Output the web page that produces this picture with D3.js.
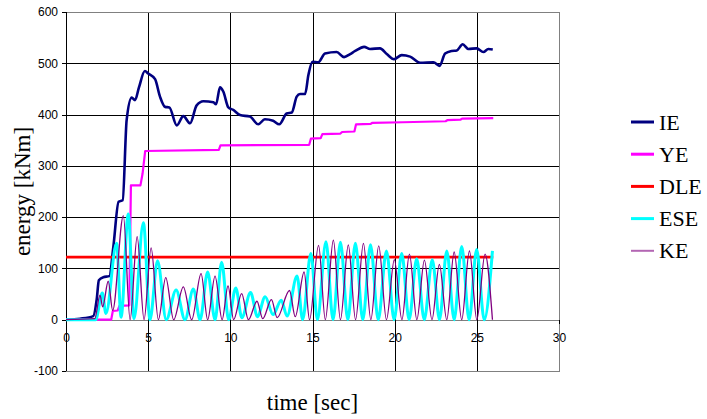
<!DOCTYPE html>
<html>
<head>
<meta charset="utf-8">
<script src="https://cdn.jsdelivr.net/npm/d3@7"></script>
<style>
  body { margin: 0; background: #fff; }
  .tickText { font-family: "Liberation Sans", Arial, sans-serif; font-size: 12px; fill: #000; }
  .serifText { font-family: "Liberation Serif", "DejaVu Serif", serif; fill: #000; }
</style>
</head>
<body>
<div id="chart"></div>
<script>
// Chart values: [time (sec), energy (kNm)]
var xTicks = [0, 5, 10, 15, 20, 25, 30];
var yTicks = [-100, 0, 100, 200, 300, 400, 500, 600];
var seriesNames = ["IE", "YE", "DLE", "ESE", "KE"];

var ieData = [[0,0],[0.85,2],[1.66,7],[1.87,40],[2.0,77],[2.27,83],[2.64,85],[2.88,142],[3.2,230],[3.45,233],
  [3.69,389],[4.0,433],[4.2,428],[4.44,453],[4.8,485],[5.0,480],[5.42,469],[5.72,435],[6.03,415],[6.29,414],
  [6.74,379],[7.14,397],[7.55,383],[7.95,418],[8.36,426],[8.97,424],[9.13,420],[9.37,453],[9.57,445],[9.88,414],
  [10.18,409],[10.59,399],[11.2,396],[11.7,381],[12.1,391],[12.6,388],[12.98,381],[13.43,402],[13.74,404],
  [14.04,435],[14.24,440],[14.55,440],[14.75,477],[15.0,503],[15.35,502],[15.76,519],[16.47,522],[16.92,512],
  [17.29,518],[17.6,524],[18.14,532],[18.5,528],[19.11,529],[19.52,518],[19.96,508],[20.43,516],[20.94,513],
  [21.55,501],[22.36,502],[22.73,495],[23.07,519],[23.47,524],[23.78,525],[24.14,537],[24.48,528],[24.99,529],
  [25.4,522],[25.7,528],[25.97,527]];

var yeData = [[0,0],[2.75,0],[2.85,17],[3.15,18],[3.25,27],[3.85,28],[3.95,262],[4.53,262],[4.66,285],[4.82,329],
  [9.3,331],[9.4,340],[14.8,341],[14.9,353],[15.5,354],[15.6,362],[16.7,363],[16.8,366],[17.55,367],[17.65,381],
  [18.55,382],[18.65,384],[20.5,385],[23.1,387],[23.2,389],[24.0,390],[24.1,392],[26,393]];

var dleData = [[0,122],[26,122]];

var eseData = [[0,0],[1.8,0],[2.21,52],[2.43,12],[3.08,149],[3.35,5],[3.79,206],[4.14,2],[4.71,189],[5.11,0],
  [5.57,115],[6.1,0],[6.7,58],[7.24,0],[7.75,60],[8.16,0],[8.62,93],[9.07,0],[9.47,112],[9.9,0],[10.33,62],
  [10.7,4],[11.23,53],[11.65,6],[12.12,45],[12.6,10],[13.1,38],[13.45,7],[14.06,85],[14.4,0],[14.9,129],
  [15.3,0],[15.82,152],[16.25,0],[16.7,151],[17.15,0],[17.61,149],[18.06,0],[18.53,146],[19.0,0],[19.5,134],
  [19.97,0],[20.43,129],[20.88,0],[21.34,119],[21.8,0],[22.29,117],[22.73,0],[23.17,134],[23.62,0],[24.08,143],
  [24.53,0],[24.99,137],[25.45,0],[25.95,134]];

var keData = [[0,0],[1.75,2],[2.07,48],[2.23,25],[2.57,75],[2.84,18],[3.49,203],[3.9,0],[4.33,162],[4.75,0],
  [5.18,140],[5.62,0],[6.07,82],[6.55,0],[7.14,64],[7.65,0],[8.22,90],[8.62,0],[9.07,85],[9.5,0],[9.86,66],
  [10.2,0],[10.69,51],[11.1,0],[11.62,36],[11.97,2],[12.5,39],[12.85,4],[13.6,57],[13.95,6],[14.49,93],
  [14.82,0],[15.37,145],[15.78,0],[16.27,155],[16.7,0],[17.18,146],[17.62,0],[18.1,149],[18.55,0],[19.03,144],
  [19.5,0],[19.98,117],[20.44,0],[20.9,128],[21.35,0],[21.81,116],[22.27,0],[22.72,108],[23.17,0],[23.62,132],
  [24.08,0],[24.55,134],[25.0,0],[25.5,128],[25.95,0]];

// Set up our chart area
var svgWidth = 707;
var svgHeight = 419;
var plot = { left: 66, right: 559, top: 12, bottom: 371 };

var svg = d3.select("#chart")
  .append("svg")
  .attr("width", svgWidth)
  .attr("height", svgHeight);

var xScale = d3.scaleLinear().domain([0, 30]).range([plot.left, plot.right]);
var yScale = d3.scaleLinear().domain([-100, 600]).range([plot.bottom, plot.top]);

var crisp = v => Math.round(v) + 0.5;

// gridlines
var grid = svg.append("g").attr("shape-rendering", "crispEdges");
grid.selectAll(".hgrid")
  .data(yTicks.filter(d => d !== -100 && d !== 600))
  .enter()
  .append("line")
  .attr("x1", plot.left).attr("x2", plot.right)
  .attr("y1", d => crisp(yScale(d))).attr("y2", d => crisp(yScale(d)))
  .attr("stroke", d => d === 0 ? "#808080" : "#000");
grid.selectAll(".vgrid")
  .data(xTicks.filter(d => d !== 0 && d !== 30))
  .enter()
  .append("line")
  .attr("x1", d => crisp(xScale(d))).attr("x2", d => crisp(xScale(d)))
  .attr("y1", plot.top).attr("y2", plot.bottom)
  .attr("stroke", "#000");

// plot border
grid.append("rect")
  .attr("x", crisp(plot.left)).attr("y", crisp(plot.top))
  .attr("width", plot.right - plot.left).attr("height", plot.bottom - plot.top)
  .attr("fill", "none").attr("stroke", "#808080");
grid.append("line")
  .attr("x1", crisp(plot.left)).attr("x2", crisp(plot.left))
  .attr("y1", plot.top).attr("y2", plot.bottom)
  .attr("stroke", "#000");

// axes (plain hyphen for negative numbers, like the original)
var bottomAxis = d3.axisBottom(xScale).tickValues(xTicks).tickSize(4).tickPadding(9).tickFormat(d => String(d));
var leftAxis = d3.axisLeft(yScale).tickValues(yTicks).tickSize(4).tickPadding(4).tickFormat(d => String(d));

var xAxisG = svg.append("g")
  .attr("transform", `translate(0, ${crisp(yScale(0)) - 0.5})`)
  .call(bottomAxis);
var yAxisG = svg.append("g")
  .attr("transform", `translate(${crisp(plot.left) - 0.5}, 0)`)
  .call(leftAxis);

[xAxisG, yAxisG].forEach(function(g) {
  g.select(".domain").remove();
  g.attr("font-family", null).attr("font-size", null);
  g.selectAll(".tick line").attr("stroke", "#000").attr("shape-rendering", "crispEdges");
  g.selectAll(".tick text").attr("class", "tickText");
});

// series lines
var lineGen = d3.line()
  .x(d => xScale(d[0]))
  .y(d => yScale(d[1]));

var styles = {
  IE:  { color: "#000080", width: 2.6, curve: d3.curveMonotoneX },
  YE:  { color: "#ff00ff", width: 2.2, curve: d3.curveLinear },
  DLE: { color: "#ff0000", width: 2.6, curve: d3.curveLinear },
  ESE: { color: "#00ffff", width: 3, curve: d3.curveMonotoneX },
  KE:  { color: "#800080", width: 1.3, curve: d3.curveMonotoneX }
};
var seriesData = { IE: ieData, YE: yeData, DLE: dleData, ESE: eseData, KE: keData };

seriesNames.forEach(function(name) {
  svg.append("path")
    .datum(seriesData[name])
    .attr("fill", "none")
    .attr("stroke", styles[name].color)
    .attr("stroke-width", styles[name].width)
    .attr("stroke-linejoin", "round")
    .attr("d", lineGen.curve(styles[name].curve));
});

// legend
var legend = svg.append("g");
seriesNames.forEach(function(name, i) {
  var ly = 122 + i * 32.2;
  legend.append("line")
    .attr("x1", 631).attr("x2", 654)
    .attr("y1", ly).attr("y2", ly)
    .attr("stroke", styles[name].color)
    .attr("stroke-width", name === "KE" ? 2 : 3)
    .attr("stroke-opacity", name === "KE" ? 0.6 : 1);
  legend.append("text")
    .attr("class", "serifText")
    .attr("x", 659)
    .attr("y", ly + 7.5)
    .style("font-size", "22px")
    .text(name);
});

// axes labels
svg.append("text")
  .attr("class", "serifText")
  .attr("transform", `translate(30, ${(plot.top + plot.bottom) / 2}) rotate(-90)`)
  .attr("text-anchor", "middle")
  .style("font-size", "23px")
  .text("energy [kNm]");

svg.append("text")
  .attr("class", "serifText")
  .attr("x", (plot.left + plot.right) / 2)
  .attr("y", 410)
  .attr("text-anchor", "middle")
  .style("font-size", "23px")
  .text("time [sec]");
</script>
</body>
</html>
